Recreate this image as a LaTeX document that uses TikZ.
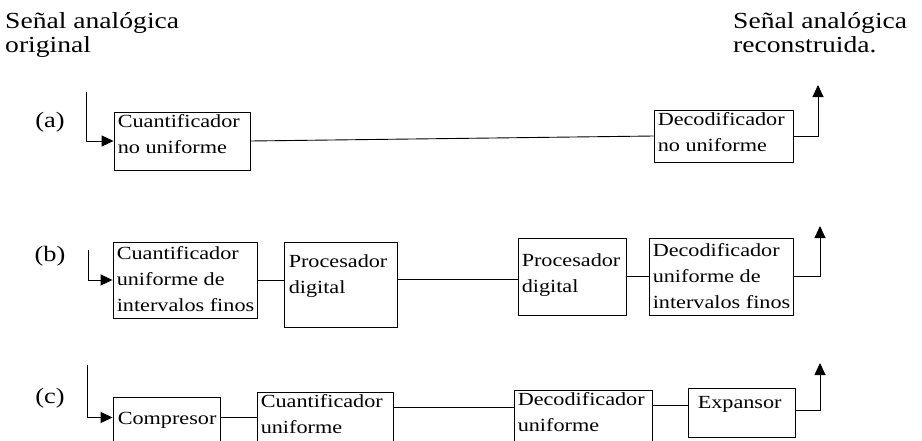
\documentclass[tikz,border=0pt]{standalone}
\usepackage{fontspec}
\setmainfont{Liberation Serif}[FakeStretch=1.2]
\usetikzlibrary{arrows.meta}
\begin{document}
\begin{tikzpicture}[x=1pt,y=-1pt,
  frame/.style={draw, line width=0.9pt, inner sep=0pt},
  btxt/.style={anchor=north west, inner sep=0pt, align=left, font=\fontsize{18.5}{26}\selectfont},
  ttl/.style={anchor=north west, inner sep=0pt, align=left, font=\fontsize{23}{24}\selectfont},
  lbl/.style={inner sep=0pt, font=\fontsize{22}{24}\selectfont},
  conn/.style={line width=0.9pt},
  arr/.style={line width=0.9pt, -{Triangle[length=12pt,width=11pt]}}]
\useasboundingbox (0,0) rectangle (922,440);
\clip (0,0) rectangle (922,440);

% titles
\node[ttl] (tin) at (5,12) {Señal analógica\\original};
\node[ttl] (tout) at (733,12) {Señal analógica\\reconstruida.};

% row labels
\node[lbl] (la) at (50,122) {(a)};
\node[lbl] (lb) at (50,256) {(b)};
\node[lbl] (lc) at (50,398) {(c)};

% row (a)
\node[frame, minimum width=136pt, minimum height=58pt] (A1) at (182,141) {};
\node[btxt] (A1t) at ([shift={(4pt,-3pt)}]A1.north west) {Cuantificador\\no uniforme};
\node[frame, minimum width=139pt, minimum height=52pt] (A2) at (723.5,136) {};
\node[btxt] (A2t) at ([shift={(4pt,-3pt)}]A2.north west) {Decodificador\\no uniforme};
\coordinate (ain) at (86,92);
\coordinate (aout) at (818,85);
\draw[arr] (ain) |- (A1.west);
\draw[conn] (A1.east) -- (A2.west);
\draw[arr] (A2.east) -| (aout);

% row (b)
\node[frame, minimum width=144pt, minimum height=76pt] (B1) at (185,280) {};
\node[btxt] (B1t) at ([shift={(4pt,-5pt)}]B1.north west) {Cuantificador\\uniforme de\\intervalos finos};
\node[frame, minimum width=113pt, minimum height=85pt] (B2) at (340.5,284.5) {};
\node[btxt] (B2t) at ([shift={(5pt,-13pt)}]B2.north west) {Procesador\\digital};
\node[frame, minimum width=108pt, minimum height=77pt] (B3) at (572,276.5) {};
\node[btxt] (B3t) at ([shift={(4pt,-16pt)}]B3.north west) {Procesador\\digital};
\node[frame, minimum width=144pt, minimum height=77pt] (B4) at (721,276.5) {};
\node[btxt] (B4t) at ([shift={(4pt,-6pt)}]B4.north west) {Decodificador\\uniforme de\\intervalos finos};
\coordinate (bin) at (88,250);
\coordinate (bout) at (820,226);
\draw[arr] (bin) |- (B1.west);
\draw[conn] (B1.east) -- (B1.east -| B2.west);
\draw[conn] ([yshift=5.5pt]B2.east) -- ([yshift=5.5pt]B2.east -| B3.west);
\draw[conn] (B3.east) -- (B3.east -| B4.west);
\draw[arr] (B4.east) -| (bout);

% row (c)
\node[frame, minimum width=107pt, minimum height=49pt] (C1) at (166.5,421.5) {};
\node[btxt] (C1t) at ([shift={(5pt,-15pt)}]C1.north west) {Compresor};
\node[frame, minimum width=136pt, minimum height=54pt] (C2) at (325,419) {};
\node[btxt] (C2t) at ([shift={(4pt,-3pt)}]C2.north west) {Cuantificador\\uniforme};
\node[frame, minimum width=138pt, minimum height=56pt] (C3) at (583,418) {};
\node[btxt] (C3t) at ([shift={(4pt,-3pt)}]C3.north west) {Decodificador\\uniforme};
\node[frame, minimum width=107pt, minimum height=49pt] (C4) at (741.5,412.5) {};
\node[btxt] (C4t) at ([shift={(10pt,-9pt)}]C4.north west) {Expansor};
\coordinate (cin) at (87,365);
\coordinate (cout) at (820,363);
\draw[arr] (cin) |- ([yshift=4pt]C1.west);
\draw[conn] ([yshift=4pt]C1.east) -- ([yshift=4pt]C1.east -| C2.west);
\draw[conn] ([yshift=12pt]C2.east) -- ([yshift=12pt]C2.east -| C3.west);
\draw[conn] ([yshift=13pt]C3.east) -- ([yshift=13pt]C3.east -| C4.west);
\draw[arr] ([yshift=2.5pt]C4.east) -| (cout);
\end{tikzpicture}
\end{document}
